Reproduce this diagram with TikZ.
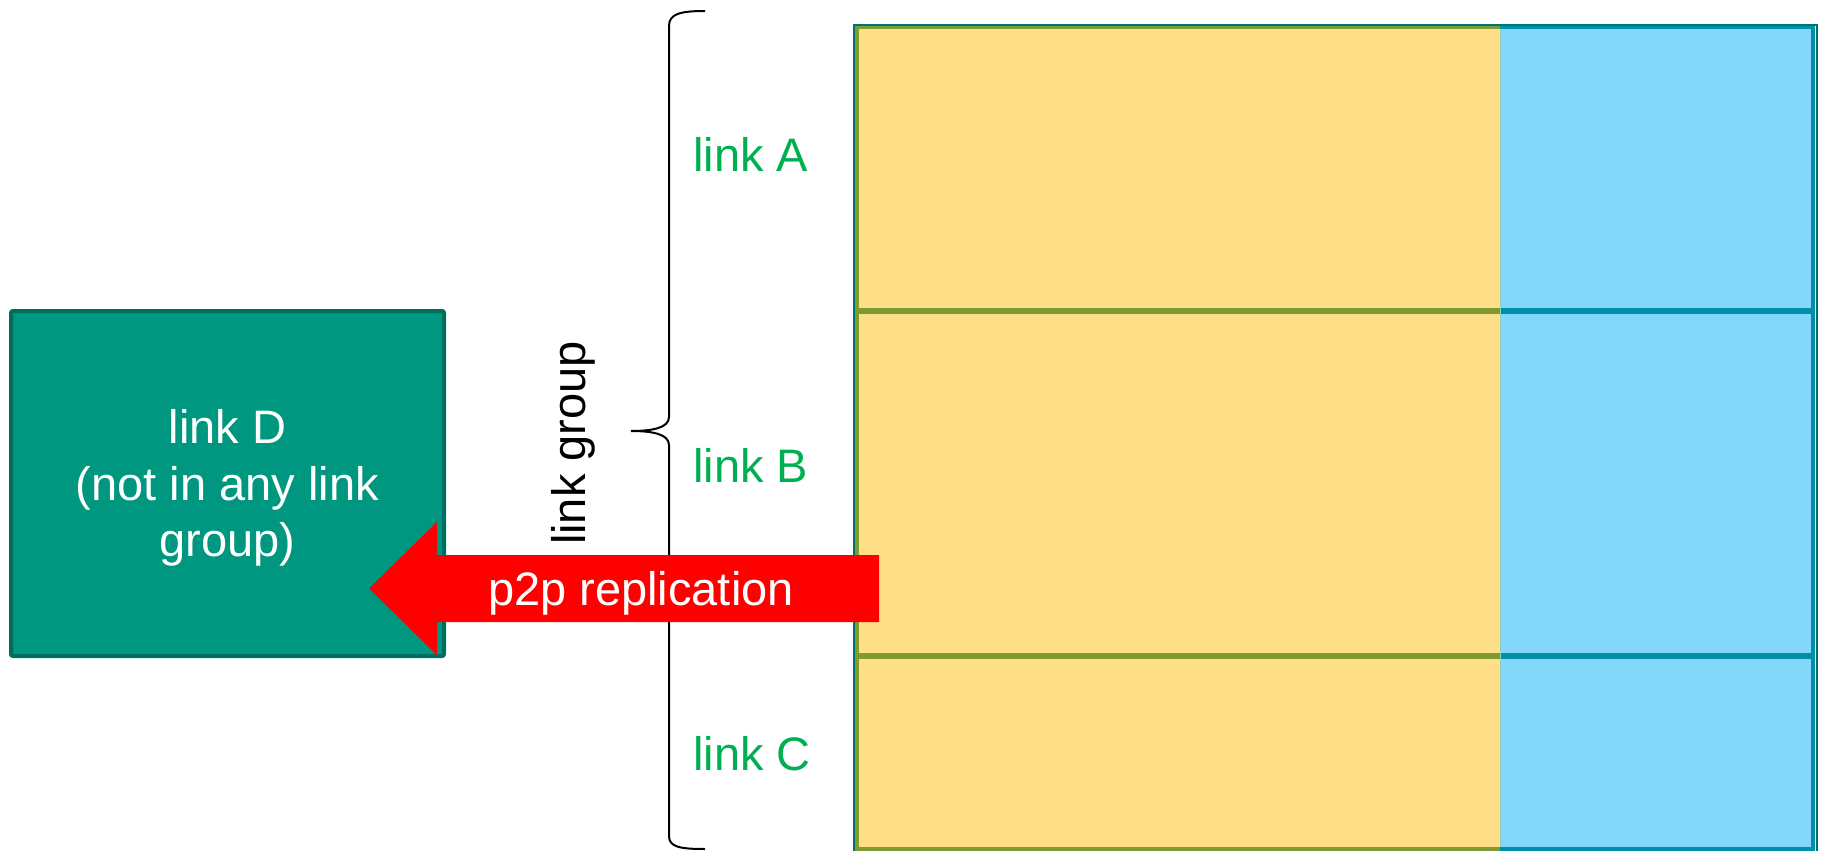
\documentclass[tikz,border=0pt]{standalone}
\usepackage{fontspec}
\setmainfont{Liberation Sans}
\definecolor{cellyellow}{HTML}{FFDF85}
\definecolor{cellblue}{HTML}{83D7F9}
\definecolor{oliveline}{HTML}{7F9A33}
\definecolor{tealline}{HTML}{008FA8}
\definecolor{frameteal}{HTML}{00736E}
\definecolor{divline}{HTML}{8CCFC4}
\definecolor{boxgreen}{HTML}{009780}
\definecolor{boxedge}{HTML}{006E5F}
\definecolor{labelgreen}{HTML}{00B050}
\definecolor{arrowred}{HTML}{FF0000}
\begin{document}
\begin{tikzpicture}[x=1pt,y=-1pt,
  bigtext/.style={font=\fontsize{47}{56.5}\selectfont, inner sep=0pt},
  linklabel/.style={bigtext, text=labelgreen, anchor=base west},
  dbox/.style={draw=boxedge, fill=boxgreen, line width=4pt, rounded corners=2pt,
    minimum width=433pt, minimum height=345pt, inner sep=0pt},
  rowline/.style={line width=6pt},
  edgeline/.style={line width=4pt},
  bracestyle/.style={draw=black, line width=2pt},
  replarrow/.style={fill=arrowred}
]
\clip (0,0) rectangle (1821,851);

% table of links: yellow column and blue column
\fill[cellyellow] (855,26) rectangle (1500,853);
\fill[cellblue] (1500,26) rectangle (1815,853);
\draw[oliveline, rowline] (855,311) -- (1500,311);
\draw[oliveline, rowline] (855,656) -- (1500,656);
\draw[tealline, rowline] (1500,311) -- (1815,311);
\draw[tealline, rowline] (1500,656) -- (1815,656);
\draw[oliveline, edgeline] (1500,27.5) -- (857,27.5) -- (857,849) -- (1500,849);
\draw[tealline, edgeline] (1500,27.5) -- (1813,27.5) -- (1813,849) -- (1500,849);
\draw[divline, line width=1pt] (1500,29) -- (1500,847);
\draw[frameteal, line width=2pt] (854,25) rectangle (1816.5,853);

% row labels
\node[linklabel] (linkA) at (693,171) {link A};
\node[linklabel] (linkB) at (693,482) {link B};
\node[linklabel] (linkC) at (693,770) {link C};

% curly brace grouping the three rows
\coordinate (braceTop) at (705,11);
\coordinate (braceTip) at (631,431);
\coordinate (braceBot) at (705,849);
\draw[bracestyle] (braceTop) .. controls (680,11) and (669,14) .. (669,26)
  -- (669,417) .. controls (669,428) and (652,431) .. (braceTip)
  .. controls (652,431) and (669,434) .. (669,445)
  -- (669,836) .. controls (669,847) and (680,849) .. (braceBot);
\node[bigtext, rotate=90, anchor=base] (grouplabel) at (585,443) {link group};

% link outside the group
\node[dbox] (linkD) at (227.5,483.5) {};
\node[bigtext, text=white, align=center] (linkDtext) at (227.5,488)
  {link D\\(not in any link\\group)};

% replication arrow towards link D
\coordinate (arrTail) at (879,588.5);
\coordinate (arrTip) at (369,588.5);
\fill[replarrow] (arrTip) -- (437,522) -- (437,555) -- (arrTail |- 0,555)
  -- (arrTail |- 0,622) -- (437,622) -- (437,655) -- cycle;
\node[bigtext, text=white, anchor=base] (repllabel) at (641,605) {p2p replication};
\end{tikzpicture}
\end{document}
